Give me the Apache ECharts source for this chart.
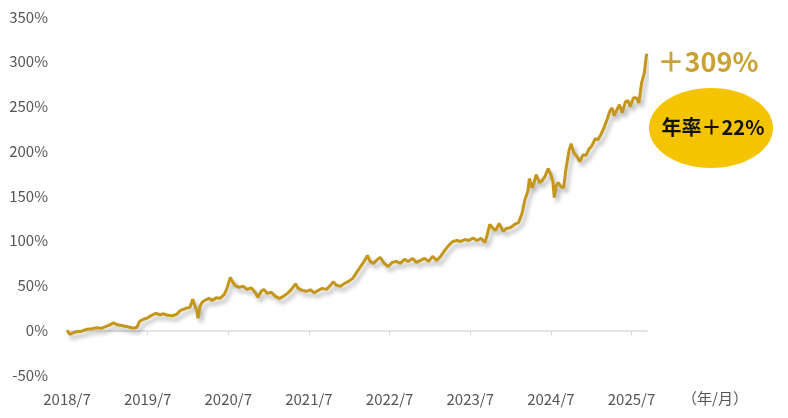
<!DOCTYPE html>
<html>
<head>
<meta charset="utf-8">
<script src="https://cdn.jsdelivr.net/npm/echarts@6/dist/echarts.min.js"></script>
<style>
html,body{margin:0;padding:0;background:#fff;}
#chart{width:788px;height:418px;}
</style>
</head>
<body>
<div id="chart"></div>
<script>
// months elapsed since 2018/7
var monthsSince = [0,0.4,0.8,1.4,2.2,2.9,3.7,4.4,5.1,5.9,6.6,6.9,7.5,8.3,9.0,9.9,10.4,10.8,11.4,12.0,12.6,13.2,13.8,14.4,15.0,15.7,16.3,16.9,17.7,18.3,18.7,19.0,19.3,19.5,19.8,20.1,20.5,21.1,21.6,22.2,22.8,23.4,23.8,24.3,24.6,25.0,25.6,26.2,26.8,27.4,28.0,28.4,28.9,29.3,29.8,30.4,31.0,31.6,32.2,32.8,33.4,34.0,34.4,35.0,35.6,36.2,36.8,37.4,38.0,38.6,39.2,39.6,40.1,40.7,41.3,41.9,42.5,43.1,43.7,44.3,44.7,45.1,45.6,46.2,46.6,47.2,47.8,48.4,49.0,49.6,50.2,50.8,51.4,52.0,52.6,53.2,53.8,54.4,55.0,55.6,56.2,56.8,57.4,58.0,58.6,59.2,59.8,60.4,61.0,61.6,62.2,62.5,62.9,63.4,63.8,64.3,64.9,65.4,66.0,66.6,67.2,67.7,68.1,68.6,68.8,69.2,69.5,69.8,70.3,70.7,71.1,71.6,72.0,72.3,72.5,72.8,73.1,73.5,73.9,74.2,74.7,75.0,75.4,75.9,76.3,76.8,77.2,77.7,78.1,78.6,79.0,79.5,79.9,80.4,80.8,81.1,81.4,81.9,82.2,82.6,83.1,83.5,83.8,84.3,84.7,85.1,85.5,85.9,86.2,86.3];
// cumulative return (%)
var cumReturn = [0,-4.5,-3.3,-1.7,-1.1,1.1,1.7,2.8,2.2,4.5,6.7,8.4,6.1,5.0,3.9,2.2,3.3,10,12.3,13.9,16.7,19,17.3,18.4,16.7,16.2,17.8,22.3,24.5,25.6,34.6,27.9,22.3,13.4,26.8,31.2,33.4,35.7,33.4,36.2,35.7,40.1,46.8,59.1,54.6,50.2,47.9,49.1,45.7,47.4,42.4,36.8,43.5,45.7,41.2,42.4,37.9,35.7,37.9,41.2,45.7,51.8,46.8,44.6,43.5,45.2,41.8,44.6,46.8,45.7,50.2,54.1,50.2,49.1,52.4,54.6,58.0,64.7,71.3,78.0,83.6,76.9,74.7,79.2,81.4,74.7,71.3,75.8,76.9,74.7,79.2,76.9,80.3,75.8,78.0,80.3,76.9,82.5,78.0,82.5,89.2,94.8,99.2,100.3,99.2,101.4,100.3,103.1,100.3,102.6,98.1,105.9,118.2,113.7,111.5,119.3,110.4,113.7,114.8,118.2,120.4,130.4,144.9,156.1,169.5,159.4,165,173.9,165,167.2,171.7,180.6,173.9,166.1,148.3,161.6,165,160.5,159.4,178.4,200.7,208.5,198.4,194,188.4,196.2,195.1,202.9,206.2,214,212.9,219.6,226.3,236.3,245.3,248.6,239.7,247.5,252,243,255.3,256.4,249.7,259.8,259.8,254.2,276.5,287.6,306.6,309];
// x tick positions (months since 2018/7) and labels
var xTickValues = [0,12,24,36,48,60,72,84];
var xTickLabels = ['2018/7','2019/7','2020/7','2021/7','2022/7','2023/7','2024/7','2025/7'];
var yTicks = [-50,0,50,100,150,200,250,300,350];
var totalReturnLabel = '＋309%';
var annualReturnLabel = '年率＋22%';
var unitLabel = '（年/月）';

var seriesData = monthsSince.map(function(m,i){return [m, cumReturn[i]];});
var font = '"Noto Sans CJK JP","Noto Sans",sans-serif';
var xMax = 86.3;

var chart = echarts.init(document.getElementById('chart'), null, {renderer:'canvas'});
chart.setOption({
  animation:false,
  backgroundColor:'#fff',
  grid:{left:67, right:141, top:17, bottom:43, containLabel:false, outerBoundsMode:'none'},
  xAxis:[{
    type:'value', min:0, max:xMax, position:'bottom',
    axisLine:{onZero:true, lineStyle:{color:'#dcdcdc', width:1.5}},
    axisTick:{show:true, length:5, lineStyle:{color:'#d8d8d8'}, customValues:xTickValues.slice(1)},
    splitLine:{show:false},
    axisLabel:{show:false}
  },{
    type:'value', min:0, max:xMax, position:'bottom',
    axisLine:{show:false, onZero:false}, axisTick:{show:false}, splitLine:{show:false},
    axisLabel:{
      customValues:xTickValues, margin:17, color:'#555', fontSize:15, fontFamily:font,
      formatter:function(v){var i=xTickValues.indexOf(Math.round(v));return i>=0?xTickLabels[i]:'';}
    }
  }],
  yAxis:{
    type:'value', min:yTicks[0], max:yTicks[yTicks.length-1], interval:50,
    axisLine:{show:false}, axisTick:{show:false}, splitLine:{show:false},
    axisLabel:{color:'#555', fontSize:15, fontFamily:font, margin:19, formatter:'{value}%'}
  },
  series:[{
    type:'line', data:seriesData, symbol:'none', smooth:false, xAxisIndex:0,
    lineStyle:{color:'#C4961A', width:3, shadowColor:'rgba(0,0,0,0.28)', shadowBlur:4, shadowOffsetX:3, shadowOffsetY:4}
  }],
  graphic:[
    {type:'text', left:682, top:391, style:{text:unitLabel, fill:'#555', font:'15px '+font}},
    {type:'text', x:708, y:62, style:{text:totalReturnLabel, fill:'#C9A235', font:'bold 27px '+font, textAlign:'center', textVerticalAlign:'middle'}},
    {type:'ellipse', shape:{cx:711, cy:128, rx:62, ry:40}, style:{fill:'#F5C400'}},
    {type:'text', x:713, y:127, style:{text:annualReturnLabel, fill:'#111', font:'bold 20px '+font, textAlign:'center', textVerticalAlign:'middle'}}
  ]
});
</script>
</body>
</html>
